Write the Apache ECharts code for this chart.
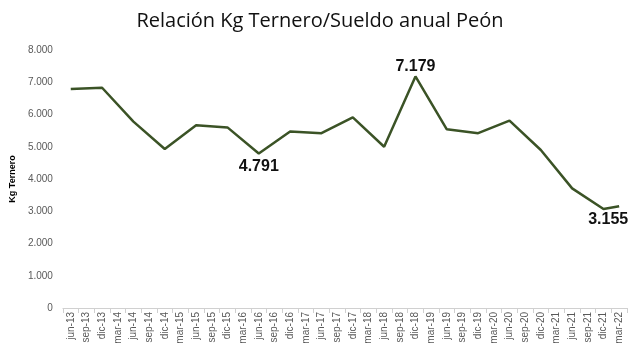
<!DOCTYPE html>
<html>
<head>
<meta charset="utf-8">
<script src="https://cdn.jsdelivr.net/npm/echarts@6/dist/echarts.min.js"></script>
<style>
  html, body { margin: 0; padding: 0; background: #fff; }
  #chart { width: 640px; height: 354px; }
</style>
</head>
<body>
<div id="chart"></div>
<script>
const categories = [
  'jun-13', 'sep-13', 'dic-13', 'mar-14', 'jun-14', 'sep-14', 'dic-14', 'mar-15', 'jun-15',
  'sep-15', 'dic-15', 'mar-16', 'jun-16', 'sep-16', 'dic-16', 'mar-17', 'jun-17', 'sep-17',
  'dic-17', 'mar-18', 'jun-18', 'sep-18', 'dic-18', 'mar-19', 'jun-19', 'sep-19', 'dic-19',
  'mar-20', 'jun-20', 'sep-20', 'dic-20', 'mar-21', 'jun-21', 'sep-21', 'dic-21', 'mar-22'
]
// semestral values (null = no dato en ese trimestre)
const kgTernero = [
  6790, null, 6830, null, 5780, null, 4930, null, 5670,
  null, 5600, null, 4791, null, 5470, null, 5420, null,
  5910, null, 5000, null, 7179, null, 5540, null, 5420,
  null, 5810, null, 4900, null, 3710, null, 3070, 3155
]
const yTicks = [0, 1000, 2000, 3000, 4000, 5000, 6000, 7000, 8000]

const fmt = v => Number(v).toLocaleString('de-DE')

// puntos destacados con etiqueta
const labelPos = { 'jun-16': 'bottom', 'dic-18': 'top', 'mar-22': 'bottom' }

const seriesData = kgTernero.map((v, i) => {
  const pos = labelPos[categories[i]]
  if (!pos || v === null) return v
  return {
    value: v,
    label: {
      show: true,
      position: pos,
      distance: pos === 'top' ? 2 : 5,
      offset: i === categories.length - 1 ? [-11, 0] : [0, 0],
      formatter: p => fmt(p.value),
      fontSize: 16,
      fontWeight: 'bold',
      color: '#111',
      fontFamily: 'Liberation Sans'
    }
  }
})

const chart = echarts.init(document.getElementById('chart'))
const option = {
  animation: false,
  title: {
    text: 'Relación Kg Ternero/Sueldo anual Peón',
    left: 'center',
    top: 6,
    textStyle: {
      color: '#111',
      fontWeight: 'normal',
      fontSize: 20,
      fontFamily: 'Open Sans'
    }
  },
  grid: {
    left: 60,
    right: 13,
    top: 50,
    bottom: 46
  },
  xAxis: {
    type: 'category',
    data: categories,
    boundaryGap: true,
    axisLine: { lineStyle: { color: '#d0d0d0', width: 1 } },
    axisTick: { show: true, alignWithLabel: false, lineStyle: { color: '#d0d0d0' } },
    axisLabel: {
      interval: 0,
      rotate: 90,
      fontSize: 10,
      color: '#595959',
      fontFamily: 'Liberation Sans',
      margin: 4
    }
  },
  yAxis: {
    type: 'value',
    min: yTicks[0],
    max: yTicks[yTicks.length - 1],
    interval: 1000,
    name: 'Kg Ternero',
    nameLocation: 'middle',
    nameGap: 30,
    nameTextStyle: {
      color: '#000',
      fontWeight: 'bold',
      fontSize: 9,
      fontFamily: 'Liberation Sans'
    },
    axisLine: { show: false },
    axisTick: { show: false },
    splitLine: { show: false },
    axisLabel: {
      formatter: v => fmt(v),
      fontSize: 10,
      color: '#595959',
      fontFamily: 'Liberation Sans',
      margin: 10
    }
  },
  series: [
    {
      name: 'Kg Ternero',
      type: 'line',
      data: seriesData,
      connectNulls: true,
      showSymbol: true,
      symbol: 'circle',
      symbolSize: 0,
      lineStyle: { color: '#3b5326', width: 2.5 },
      itemStyle: { color: '#3b5326' }
    }
  ]
}
chart.setOption(option)
window.addEventListener('resize', () => chart.resize())
</script>
</body>
</html>
